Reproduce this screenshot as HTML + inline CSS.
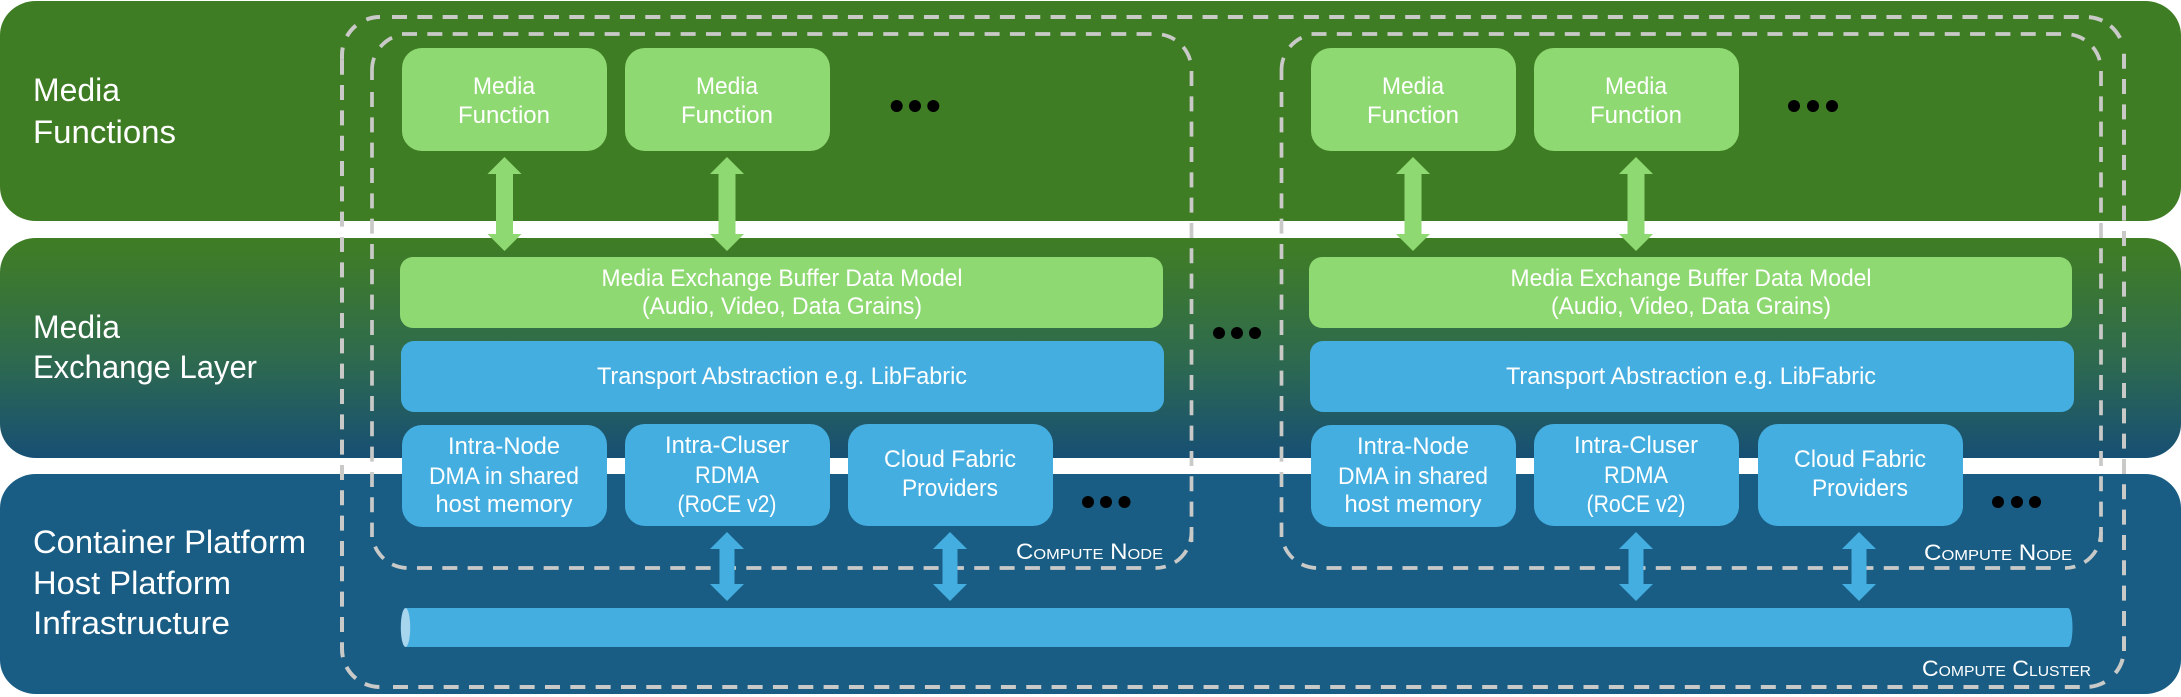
<!DOCTYPE html>
<html>
<head>
<meta charset="utf-8">
<style>
html,body{margin:0;padding:0;background:#fff;width:2181px;height:697px;overflow:hidden}
svg{display:block}
text{font-family:"Liberation Sans",sans-serif;fill:#fff;text-anchor:middle}
.l{font-size:32px;text-anchor:start}
.b{font-size:24px}
.c{font-size:22px;font-variant:small-caps;text-anchor:start}
.o path{fill:none;stroke:#c9cac8;stroke-width:4;stroke-dasharray:15 10.33}
.i path{fill:none;stroke:#c9cac8;stroke-width:3.700;stroke-dasharray:15 10.33}
</style>
</head>
<body>
<svg width="2181" height="697" viewBox="0 0 2181 697" xmlns="http://www.w3.org/2000/svg">
<defs>
<linearGradient id="g" x1="0" y1="0" x2="0" y2="1">
<stop offset="0" stop-color="#3f7d24"/>
<stop offset="0.12" stop-color="#3d7a2c"/>
<stop offset="0.55" stop-color="#2e6a4e"/>
<stop offset="1" stop-color="#174f74"/>
</linearGradient>
</defs>
<rect width="2181" height="697" fill="#fff"/>
<rect x="0" y="1" width="2181" height="220" rx="36" ry="34" fill="#3f7d24"/>
<rect x="0" y="238" width="2181" height="220" rx="36" ry="34" fill="url(#g)"/>
<rect x="0" y="474" width="2181" height="220" rx="36" ry="34" fill="#195d84"/>

<!-- outer dashed boundary -->
<g class="o">
<path d="M342 59.700V649A38 38 0 0 0 380 687"/>
<path d="M393 687H2082"/>
<path d="M2086 687A38 38 0 0 0 2124 649" style="stroke-dasharray:0 0" opacity="0"/>
<path d="M2124 649A38 38 0 0 1 2086 687" style="stroke-dasharray:0 10 16 14 16 100"/>
<path d="M2124 53.700V651"/>
<path d="M2086 17A38 38 0 0 1 2124 55" style="stroke-dasharray:0 3 14 9.500 15.500 100"/>
<path d="M392 17H2082"/>
<path d="M380 17A38 38 0 0 0 342 55V59.700" style="stroke-dasharray:14 12 14 12 100"/>
</g>

<!-- inner dashed boundaries -->
<g class="i">
<path d="M402 34H1152"/>
<path d="M1155.500 34A36 36 0 0 1 1191.500 70" style="stroke-dasharray:0 6.500 14 11 15 100"/>
<path d="M1191.500 71V542"/>
<path d="M1191.500 532A36 36 0 0 1 1155.500 568" style="stroke-dasharray:10 9 17 10 12 100"/>
<path d="M417 568H1145"/>
<path d="M372 532A36 36 0 0 0 408 568" style="stroke-dasharray:0 15 15 10 15 100"/>
<path d="M372 92V537"/>
<path d="M408 34A36 36 0 0 0 372 70V80" style="stroke-dasharray:0 16.500 15 12.500 100"/>
</g>
<g class="i" transform="translate(909.500 0)">
<path d="M402 34H1152"/>
<path d="M1155.500 34A36 36 0 0 1 1191.500 70" style="stroke-dasharray:0 6.500 14 11 15 100"/>
<path d="M1191.500 71V542"/>
<path d="M1191.500 532A36 36 0 0 1 1155.500 568" style="stroke-dasharray:10 9 17 10 12 100"/>
<path d="M417 568H1145"/>
<path d="M372 532A36 36 0 0 0 408 568" style="stroke-dasharray:0 15 15 10 15 100"/>
<path d="M372 92V537"/>
<path d="M408 34A36 36 0 0 0 372 70V80" style="stroke-dasharray:0 16.500 15 12.500 100"/>
</g>

<!-- green arrows -->
<g fill="#8fd973">
<path d="M504.500 157l17 17h-8.500v60h8.500l-17 17-17-17h8.500v-60h-8.500Z"/>
<path d="M727 157l17 17h-8.500v60h8.500l-17 17-17-17h8.500v-60h-8.500Z"/>
<path d="M1413 157l17 17h-8.500v60h8.500l-17 17-17-17h8.500v-60h-8.500Z"/>
<path d="M1636 157l17 17h-8.500v60h8.500l-17 17-17-17h8.500v-60h-8.500Z"/>
</g>
<!-- blue arrows -->
<g fill="#45aee0">
<path d="M727 532l17 17h-9.500v35h9.500l-17 17-17-17h9.500v-35h-9.500Z"/>
<path d="M950 532l17 17h-9.500v35h9.500l-17 17-17-17h9.500v-35h-9.500Z"/>
<path d="M1636 532l17 17h-9.500v35h9.500l-17 17-17-17h9.500v-35h-9.500Z"/>
<path d="M1859 532l17 17h-9.500v35h9.500l-17 17-17-17h9.500v-35h-9.500Z"/>
</g>

<!-- boxes -->
<g fill="#8fd973">
<rect x="402" y="48" width="205" height="103" rx="20"/>
<rect x="625" y="48" width="205" height="103" rx="20"/>
<rect x="1311" y="48" width="205" height="103" rx="20"/>
<rect x="1534" y="48" width="205" height="103" rx="20"/>
<rect x="400" y="257" width="763" height="71" rx="13"/>
<rect x="1309" y="257" width="763" height="71" rx="13"/>
</g>
<g fill="#45aee0">
<rect x="401" y="341" width="763" height="71" rx="13"/>
<rect x="1310" y="341" width="764" height="71" rx="13"/>
<rect x="402" y="425" width="205" height="102" rx="20"/>
<rect x="625" y="424" width="205" height="102" rx="20"/>
<rect x="848" y="424" width="205" height="102" rx="20"/>
<rect x="1311" y="425" width="205" height="102" rx="20"/>
<rect x="1534" y="424" width="205" height="102" rx="20"/>
<rect x="1758" y="424" width="205" height="102" rx="20"/>
<path d="M405.500 608H2068a4.500 19.500 0 0 1 0 39H405.500Z"/>
</g>
<ellipse cx="405.500" cy="627.500" rx="4.700" ry="19.500" fill="#a8d5ee"/>

<!-- dots -->
<g fill="#000">
<circle cx="896.700" cy="106" r="6"/><circle cx="915" cy="106" r="6"/><circle cx="933.300" cy="106" r="6"/>
<circle cx="1794" cy="106" r="6"/><circle cx="1813" cy="106" r="6"/><circle cx="1832" cy="106" r="6"/>
<circle cx="1219" cy="333" r="6"/><circle cx="1237" cy="333" r="6"/><circle cx="1255" cy="333" r="6"/>
<circle cx="1088" cy="502" r="6"/><circle cx="1106" cy="502" r="6"/><circle cx="1124.500" cy="502" r="6"/>
<circle cx="1998" cy="502" r="6"/><circle cx="2017" cy="502" r="6"/><circle cx="2035" cy="502" r="6"/>
</g>

<!-- left labels -->
<text class="l" x="33" y="101" textLength="87" lengthAdjust="spacingAndGlyphs">Media</text>
<text class="l" x="33" y="143" textLength="143" lengthAdjust="spacingAndGlyphs">Functions</text>
<text class="l" x="33" y="338" textLength="87" lengthAdjust="spacingAndGlyphs">Media</text>
<text class="l" x="33" y="378" textLength="224" lengthAdjust="spacingAndGlyphs">Exchange Layer</text>
<text class="l" x="33" y="553" textLength="273" lengthAdjust="spacingAndGlyphs">Container Platform</text>
<text class="l" x="33" y="594" textLength="198" lengthAdjust="spacingAndGlyphs">Host Platform</text>
<text class="l" x="33" y="634" textLength="197" lengthAdjust="spacingAndGlyphs">Infrastructure</text>

<!-- box labels -->
<text class="b" x="504" y="94" textLength="62" lengthAdjust="spacingAndGlyphs">Media</text>
<text class="b" x="504" y="123" textLength="92" lengthAdjust="spacingAndGlyphs">Function</text>
<text class="b" x="727" y="94" textLength="62" lengthAdjust="spacingAndGlyphs">Media</text>
<text class="b" x="727" y="123" textLength="92" lengthAdjust="spacingAndGlyphs">Function</text>
<text class="b" x="1413" y="94" textLength="62" lengthAdjust="spacingAndGlyphs">Media</text>
<text class="b" x="1413" y="123" textLength="92" lengthAdjust="spacingAndGlyphs">Function</text>
<text class="b" x="1636" y="94" textLength="62" lengthAdjust="spacingAndGlyphs">Media</text>
<text class="b" x="1636" y="123" textLength="92" lengthAdjust="spacingAndGlyphs">Function</text>

<text class="b" x="782" y="286" textLength="361" lengthAdjust="spacingAndGlyphs">Media Exchange Buffer Data Model</text>
<text class="b" x="782" y="314" textLength="280" lengthAdjust="spacingAndGlyphs">(Audio, Video, Data Grains)</text>
<text class="b" x="1691" y="286" textLength="361" lengthAdjust="spacingAndGlyphs">Media Exchange Buffer Data Model</text>
<text class="b" x="1691" y="314" textLength="280" lengthAdjust="spacingAndGlyphs">(Audio, Video, Data Grains)</text>

<text class="b" x="782" y="384" textLength="370" lengthAdjust="spacingAndGlyphs">Transport Abstraction e.g.  LibFabric</text>
<text class="b" x="1691" y="384" textLength="370" lengthAdjust="spacingAndGlyphs">Transport Abstraction e.g.  LibFabric</text>

<text class="b" x="504" y="454" textLength="112" lengthAdjust="spacingAndGlyphs">Intra-Node</text>
<text class="b" x="504" y="484" textLength="150" lengthAdjust="spacingAndGlyphs">DMA in shared</text>
<text class="b" x="504" y="512" textLength="137" lengthAdjust="spacingAndGlyphs">host memory</text>
<text class="b" x="727" y="453" textLength="124" lengthAdjust="spacingAndGlyphs">Intra-Cluser</text>
<text class="b" x="727" y="483" textLength="64" lengthAdjust="spacingAndGlyphs">RDMA</text>
<text class="b" x="727" y="512" textLength="99" lengthAdjust="spacingAndGlyphs">(RoCE v2)</text>
<text class="b" x="950" y="467" textLength="132" lengthAdjust="spacingAndGlyphs">Cloud Fabric</text>
<text class="b" x="950" y="496" textLength="96" lengthAdjust="spacingAndGlyphs">Providers</text>

<text class="b" x="1413" y="454" textLength="112" lengthAdjust="spacingAndGlyphs">Intra-Node</text>
<text class="b" x="1413" y="484" textLength="150" lengthAdjust="spacingAndGlyphs">DMA in shared</text>
<text class="b" x="1413" y="512" textLength="137" lengthAdjust="spacingAndGlyphs">host memory</text>
<text class="b" x="1636" y="453" textLength="124" lengthAdjust="spacingAndGlyphs">Intra-Cluser</text>
<text class="b" x="1636" y="483" textLength="64" lengthAdjust="spacingAndGlyphs">RDMA</text>
<text class="b" x="1636" y="512" textLength="99" lengthAdjust="spacingAndGlyphs">(RoCE v2)</text>
<text class="b" x="1860" y="467" textLength="132" lengthAdjust="spacingAndGlyphs">Cloud Fabric</text>
<text class="b" x="1860" y="496" textLength="96" lengthAdjust="spacingAndGlyphs">Providers</text>

<text class="c" x="1016" y="559" textLength="147" lengthAdjust="spacingAndGlyphs">Compute Node</text>
<text class="c" x="1924" y="560" textLength="148" lengthAdjust="spacingAndGlyphs">Compute Node</text>
<text class="c" x="1922" y="676" textLength="169" lengthAdjust="spacingAndGlyphs">Compute Cluster</text>
</svg>
</body>
</html>
